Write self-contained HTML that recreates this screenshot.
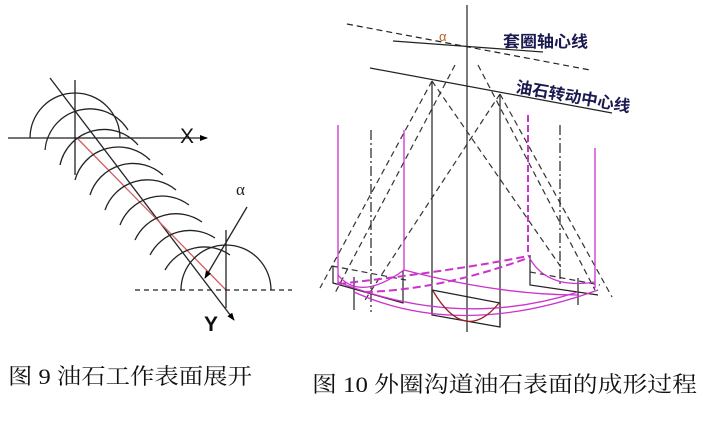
<!DOCTYPE html>
<html><head><meta charset="utf-8"><style>
html,body{margin:0;padding:0;background:#fff;width:704px;height:427px;overflow:hidden}
</style></head><body>
<svg width="704" height="427" viewBox="0 0 704 427" xmlns="http://www.w3.org/2000/svg">
<defs>
<marker id="ar" markerWidth="8" markerHeight="8" refX="7" refY="4" orient="auto" markerUnits="userSpaceOnUse"><path d="M0,1 L8,4 L0,7 Z" fill="#000"/></marker>
</defs>
<g fill="none" stroke="#222" stroke-width="1.3">
<!-- left figure -->
<line x1="8" y1="138" x2="207" y2="138" marker-end="url(#ar)"/>
<line x1="75" y1="80" x2="75" y2="175"/>
<line x1="50" y1="78" x2="234" y2="320" marker-end="url(#ar)"/>
<line x1="77" y1="138" x2="226" y2="290" stroke="#d06060"/>
<line x1="135" y1="290" x2="292" y2="290" stroke-dasharray="5,4"/>
<line x1="226" y1="230" x2="226" y2="308"/>
<line x1="247" y1="207" x2="205" y2="278" marker-end="url(#ar)"/>
<path d="M30,138 A45,45 0 0 1 120,138"/>
<path d="M45,150 A45,45 0 0 1 128,130"/>
<path d="M60,165 A45,45 0 0 1 138,145"/>
<path d="M75,180 A45,45 0 0 1 150,160"/>
<path d="M90,195 A45,45 0 0 1 163,175"/>
<path d="M105,210 A45,45 0 0 1 176,190"/>
<path d="M120,225 A45,45 0 0 1 189,205"/>
<path d="M135,240 A45,45 0 0 1 202,222"/>
<path d="M150,255 A45,45 0 0 1 215,238"/>
<path d="M165,270 A45,45 0 0 1 230,255"/>
<path d="M181,290 A45,45 0 0 1 271,290"/>
</g>
<text x="180" y="143" font-family="Liberation Sans,sans-serif" font-size="21" fill="#111">X</text>
<text x="204" y="331" font-family="Liberation Sans,sans-serif" font-size="21" font-weight="bold" fill="#111">Y</text>
<text x="236" y="195" font-family="Liberation Serif,serif" font-size="17" fill="#222">α</text>

<!-- right figure -->
<g fill="none" stroke="#222" stroke-width="1.2">
<line x1="467" y1="5" x2="467" y2="332"/>
<line x1="347" y1="24" x2="590" y2="70" stroke-dasharray="6,4"/>
<line x1="393" y1="41" x2="543" y2="52"/>
<line x1="370" y1="68" x2="612" y2="113"/>
<line x1="432" y1="81" x2="432" y2="315"/>
<line x1="500" y1="94" x2="500" y2="327"/>
<g stroke-dasharray="6,4" stroke="#333">
<line x1="432" y1="81" x2="320" y2="288"/>
<line x1="432" y1="81" x2="563" y2="270"/>
<line x1="455" y1="65" x2="335" y2="293"/>
<line x1="478" y1="65" x2="595" y2="290"/>
<line x1="500" y1="94" x2="365" y2="300"/>
<line x1="500" y1="94" x2="612" y2="297"/>
<line x1="332" y1="266" x2="406" y2="280"/>
<line x1="530" y1="272" x2="600" y2="285"/>
</g>
<g stroke-dasharray="10,3,2,3">
<line x1="371" y1="130" x2="371" y2="312"/>
<line x1="560" y1="125" x2="560" y2="285"/>
</g>
<polyline points="333,266 333,283 403,303 403,270"/>
<polyline points="530,255 530,285 598,295"/>
<polyline points="432,290 500,303 500,327 432,315 432,290"/>
<line x1="354" y1="277" x2="354" y2="310"/>
<line x1="578" y1="278" x2="578" y2="305"/>
</g>
<g fill="none" stroke="#cc33cc" stroke-width="1.3">
<line x1="338" y1="125" x2="338" y2="285"/>
<line x1="404" y1="130" x2="404" y2="270"/>
<line x1="595" y1="148" x2="595" y2="288"/>
<line x1="528" y1="115" x2="528" y2="255" stroke-dasharray="7,3" stroke-width="2"/>
<path d="M338,275 Q360,302 404,270"/>
<path d="M528,255 Q545,290 595,282"/>
<path d="M338,282 Q460,330 578,292"/>
<path d="M354,292 Q460,340 598,290"/>
<path d="M404,270 Q500,295 578,295"/>
<path d="M338,284 Q460,270 528,256" stroke-dasharray="8,4" stroke-width="2"/>
<path d="M365,292 Q440,290 528,258" stroke-dasharray="8,4" stroke-width="2"/>
</g>
<path d="M433,291 Q465,345 499,303" fill="none" stroke="#992222" stroke-width="1.3"/>
<text x="439" y="41" font-family="Liberation Sans,sans-serif" font-size="13" fill="#c06020">α</text>
<text x="503" y="47" font-family="Liberation Sans,'Noto Sans CJK SC',sans-serif" font-size="16" font-weight="bold" fill="#1a1a50" textLength="85" lengthAdjust="spacingAndGlyphs">套圈轴心线</text>
<text x="515" y="92" transform="rotate(10 515 92)" font-family="Liberation Sans,'Noto Sans CJK SC',sans-serif" font-size="16" font-weight="bold" fill="#1a1a50" textLength="116" lengthAdjust="spacingAndGlyphs">油石转动中心线</text>

<text x="8" y="384" font-family="'Liberation Serif','Noto Serif CJK SC',serif" font-size="22" fill="#111" textLength="244" lengthAdjust="spacingAndGlyphs">图 9 油石工作表面展开</text>
<text x="312" y="392" font-family="'Liberation Serif','Noto Serif CJK SC',serif" font-size="22" fill="#111" textLength="385" lengthAdjust="spacingAndGlyphs">图 10  外圈沟道油石表面的成形过程</text>
</svg>
</body></html>
